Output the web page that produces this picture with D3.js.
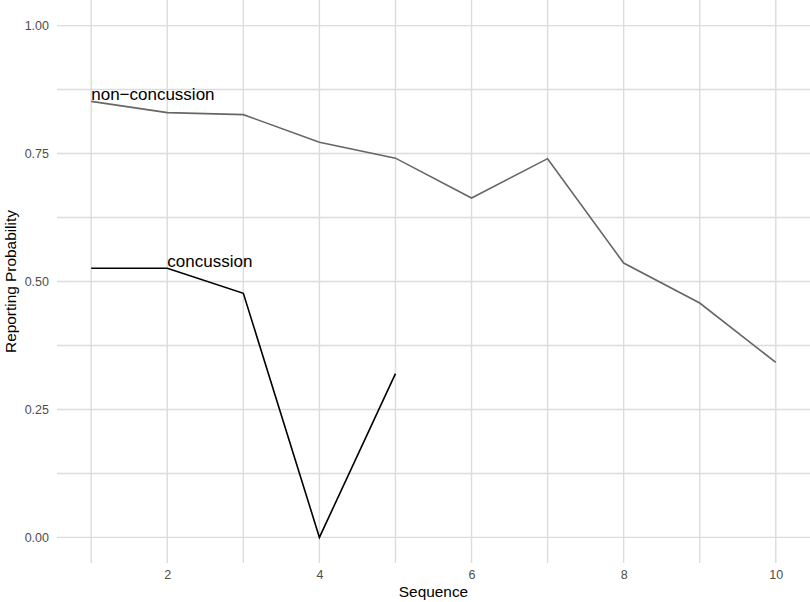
<!DOCTYPE html>
<html>
<head>
<meta charset="utf-8">
<script src="https://cdn.jsdelivr.net/npm/d3@7"></script>
<style>
	body { margin: 0; background: #fff; }
	text { font-family: "Liberation Sans", Arial, sans-serif; }
</style>
</head>
<body>
<div id="chart"></div>
<script>
//Data
var sequence = [1, 2, 3, 4, 5, 6, 7, 8, 9, 10];
var nonConcussion = [0.852, 0.830, 0.826, 0.772, 0.741, 0.663, 0.740, 0.536, 0.458, 0.342];
var concussionSeq = [1, 2, 3, 4, 5];
var concussion = [0.526, 0.526, 0.477, 0.0, 0.320];
var xTicks = [2, 4, 6, 8, 10];
var xMinor = [1, 3, 5, 7, 9];
var yTicks = [0, 0.25, 0.5, 0.75, 1];
var yMinor = [0.125, 0.375, 0.625, 0.875];
var seriesLabels = [
	{ text: "non\u2212concussion", x: 1, y: 0.852 },
	{ text: "concussion", x: 2, y: 0.526 }
];

//SVG setup
var width = 810, height = 602;
var panel = { left: 57, right: 810, top: 0, bottom: 563 };

var svg = d3.select("#chart")
	.append("svg")
	.attr("width", width)
	.attr("height", height);

//Scales (ggplot style 5% expansion)
var x = d3.scaleLinear()
	.domain([0.55, 10.45])
	.range([panel.left, panel.right]);

var y = d3.scaleLinear()
	.domain([-0.05, 1.05])
	.range([panel.bottom, panel.top]);

//Grid lines
var grid = svg.append("g").attr("class", "grid");
grid.selectAll(".hgrid")
	.data(yTicks.concat(yMinor))
	.enter()
	.append("line")
	.attr("x1", panel.left)
	.attr("x2", panel.right)
	.attr("y1", function(d) { return y(d); })
	.attr("y2", function(d) { return y(d); })
	.attr("stroke", "#dcdcdc")
	.attr("stroke-width", 1.4);
grid.selectAll(".vgrid")
	.data(xTicks.concat(xMinor))
	.enter()
	.append("line")
	.attr("y1", panel.top)
	.attr("y2", panel.bottom)
	.attr("x1", function(d) { return x(d); })
	.attr("x2", function(d) { return x(d); })
	.attr("stroke", "#dcdcdc")
	.attr("stroke-width", 1.4);

//Axes (no domain line, no ticks)
var xAxis = svg.append("g")
	.attr("transform", "translate(0," + panel.bottom + ")")
	.call(d3.axisBottom(x).tickValues(xTicks).tickSize(0).tickPadding(7).tickFormat(d3.format("d")));
xAxis.select(".domain").remove();
xAxis.selectAll("text")
	.attr("font-size", 12.5)
	.attr("fill", "#4d4d4d")
	.style("font-family", "'Liberation Sans', Arial, sans-serif");

var yAxis = svg.append("g")
	.attr("transform", "translate(" + panel.left + ",0)")
	.call(d3.axisLeft(y).tickValues(yTicks).tickSize(0).tickPadding(8).tickFormat(d3.format(".2f")));
yAxis.select(".domain").remove();
yAxis.selectAll("text")
	.attr("font-size", 12.5)
	.attr("fill", "#4d4d4d")
	.style("font-family", "'Liberation Sans', Arial, sans-serif");

//Axis titles
svg.append("text")
	.attr("x", (panel.left + panel.right) / 2)
	.attr("y", 597)
	.attr("text-anchor", "middle")
	.attr("font-size", 15.4)
	.attr("fill", "#000")
	.text("Sequence");

svg.append("text")
	.attr("transform", "translate(16," + ((panel.top + panel.bottom) / 2) + ") rotate(-90)")
	.attr("text-anchor", "middle")
	.attr("font-size", 15.4)
	.attr("fill", "#000")
	.text("Reporting Probability");

//Lines
var line = d3.line()
	.x(function(d) { return x(d[0]); })
	.y(function(d) { return y(d[1]); });

svg.append("path")
	.datum(d3.zip(sequence, nonConcussion))
	.attr("fill", "none")
	.attr("stroke", "#666666")
	.attr("stroke-width", 1.6)
	.attr("d", line);

svg.append("path")
	.datum(d3.zip(concussionSeq, concussion))
	.attr("fill", "none")
	.attr("stroke", "#000")
	.attr("stroke-width", 1.6)
	.attr("d", line);

//Series labels
svg.selectAll(".series-label")
	.data(seriesLabels)
	.enter()
	.append("text")
	.attr("class", "series-label")
	.attr("x", function(d) { return x(d.x); })
	.attr("y", function(d) { return y(d.y) - 1; })
	.attr("font-size", 17)
	.attr("fill", "#000")
	.text(function(d) { return d.text; });
</script>
</body>
</html>
